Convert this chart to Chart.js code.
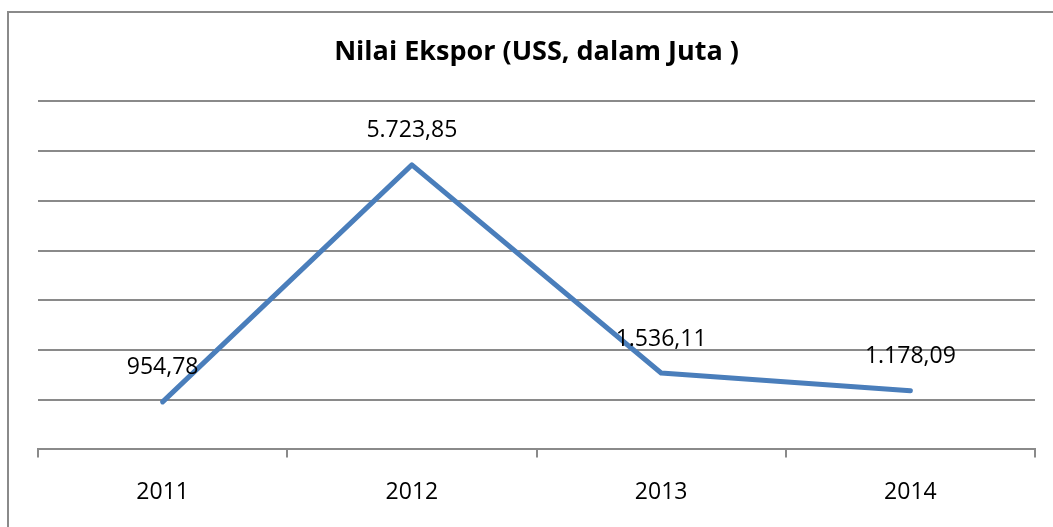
<!DOCTYPE html>
<html lang="id">
<head>
  <meta charset="UTF-8" />
  <title>Nilai Ekspor</title>
  <script src="https://cdn.jsdelivr.net/npm/chart.js"></script>
  <style>
    html, body { margin: 0; padding: 0; background: #fff; }
    #wrap { position: relative; width: 1053px; height: 527px; overflow: hidden; }
    #frame {
      position: absolute; left: 7px; top: 11px; width: 1100px; height: 600px;
      border-left: 2px solid #8a8a8a; border-top: 2px solid #8a8a8a;
      pointer-events: none;
    }
  </style>
</head>
<body>
  <div id="wrap">
    <canvas id="chart" width="1053" height="527"></canvas>
    <div id="frame"></div>
  </div>

  <script>
    const years = ['2011', '2012', '2013', '2014'];
    const ekspor = [954.78, 5723.85, 1536.11, 1178.09];
    const yMax = 7000;
    const yStep = 1000;

    // 5723.85 -> "5.723,85"
    const formatId = (v) => {
      const [int, dec] = v.toFixed(2).split('.');
      return int.replace(/\B(?=(\d{3})+(?!\d))/g, '.') + ',' + dec;
    };

    const valueLabels = {
      id: 'valueLabels',
      afterDatasetsDraw(chart) {
        const ctx = chart.ctx;
        const meta = chart.getDatasetMeta(0);
        ctx.save();
        ctx.font = '23px "Open Sans", sans-serif';
        ctx.fillStyle = '#000';
        ctx.textAlign = 'center';
        ctx.textBaseline = 'middle';
        meta.data.forEach((pt, i) => {
          ctx.fillText(formatId(ekspor[i]), pt.x, pt.y - 34);
        });
        ctx.restore();
      }
    };

    new Chart(document.getElementById('chart'), {
      type: 'line',
      data: {
        labels: years,
        datasets: [{
          data: ekspor,
          borderColor: '#4a7ebb',
          borderWidth: 5,
          borderCapStyle: 'round',
          borderJoinStyle: 'round',
          pointRadius: 0,
          tension: 0,
          fill: false
        }]
      },
      options: {
        responsive: false,
        animation: false,
        layout: { padding: { left: 38, right: 18, top: 0, bottom: 0 } },
        plugins: {
          legend: { display: false },
          tooltip: { enabled: false },
          title: {
            display: true,
            text: 'Nilai Ekspor (USS, dalam Juta )',
            color: '#000',
            font: { family: '"Open Sans", sans-serif', size: 27, weight: 'bold', lineHeight: 1.2 },
            padding: { top: 36, bottom: 33 }
          }
        },
        scales: {
          x: {
            offset: true,
            grid: {
              offset: true,
              drawOnChartArea: false,
              drawTicks: true,
              tickLength: 8,
              color: '#8a8a8a',
              lineWidth: 2
            },
            border: { display: true, color: '#8a8a8a', width: 2 },
            ticks: {
              color: '#000',
              padding: 21,
              font: { family: '"Open Sans", sans-serif', size: 23 }
            }
          },
          y: {
            min: 0,
            max: yMax,
            ticks: { display: false, stepSize: yStep },
            grid: { color: '#8a8a8a', lineWidth: 2, drawTicks: false },
            border: { display: false }
          }
        }
      },
      plugins: [valueLabels]
    });
  </script>
</body>
</html>
